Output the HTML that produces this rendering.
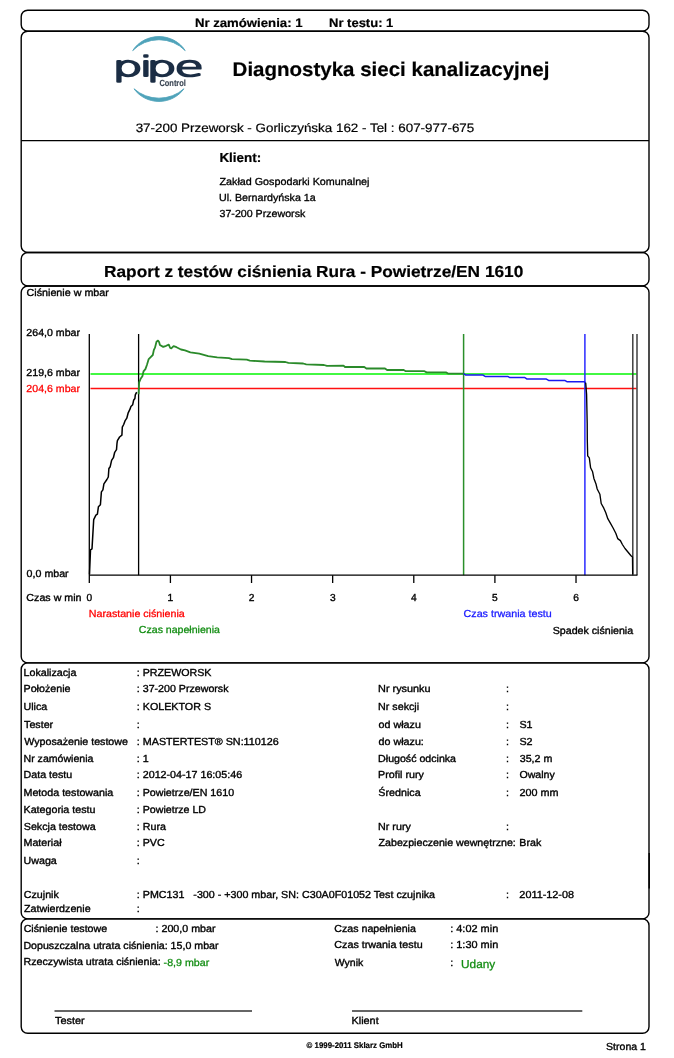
<!DOCTYPE html>
<html><head><meta charset="utf-8"><title>Raport z testów ciśnienia</title>
<style>
html,body{margin:0;padding:0;background:#fff;}
body{width:674px;height:1058px;overflow:hidden;}
svg{display:block;}
text{font-family:"Liberation Sans",Arial,sans-serif;white-space:pre;text-rendering:geometricPrecision;}
.tx text{stroke:#000;stroke-width:0.35;}
.tx text[font-weight="bold"]{stroke-width:0.2;}
</style></head><body>
<svg width="674" height="1058" viewBox="0 0 674 1058">
<rect width="674" height="1058" fill="#fff"/>
<rect x="21.2" y="10.2" width="627.8" height="21.0" rx="6.5" ry="6.5" fill="none" stroke="#000" stroke-width="1.4"/>
<rect x="21.2" y="31.2" width="627.8" height="221.3" rx="6.5" ry="6.5" fill="none" stroke="#000" stroke-width="1.4"/>
<line x1="21.2" y1="140.6" x2="649.0" y2="140.6" stroke="#000" stroke-width="1.4"/>
<rect x="21.2" y="252.5" width="627.8" height="33.5" rx="6.5" ry="6.5" fill="none" stroke="#000" stroke-width="1.4"/>
<rect x="21.2" y="286.0" width="627.8" height="376.9" rx="6.5" ry="6.5" fill="none" stroke="#000" stroke-width="1.4"/>
<rect x="21.2" y="662.9" width="627.8" height="256.0" rx="6.5" ry="6.5" fill="none" stroke="#000" stroke-width="1.4"/>
<rect x="21.2" y="918.9" width="627.8" height="114.39999999999998" rx="6.5" ry="6.5" fill="none" stroke="#000" stroke-width="1.4"/>
<line x1="54.5" y1="1011.1" x2="252" y2="1011.1" stroke="#333" stroke-width="1.5"/>
<line x1="352" y1="1011.1" x2="582.3" y2="1011.1" stroke="#333" stroke-width="1.5"/>
<line x1="649.2" y1="853" x2="649.2" y2="888.6" stroke="#000" stroke-width="1.4"/>

<g>
<path d="M 132.7 50.6 A 30.56 28.7 0 0 1 185.2 50.6 A 35.48 33.32 0 0 0 132.7 50.6 Z" fill="#4fa3ba" stroke="#4fa3ba" stroke-width="0.9" stroke-linejoin="round"/>
<path d="M 134.0 88.8 A 29.9 28.08 0 0 0 183.9 88.8 A 36.1 33.89 0 0 1 134.0 88.8 Z" fill="#4fa3ba" stroke="#4fa3ba" stroke-width="0.9" stroke-linejoin="round"/>
<text style="font-family:'DejaVu Sans',sans-serif" font-weight="200" font-size="27.5" fill="#1b2d44" stroke="#1b2d44" stroke-width="1.9" stroke-linejoin="round" vector-effect="non-scaling-stroke" y="75.9" x="65.35 81.13 85.12 101.4" transform="matrix(1.72 0 0 1 0 0)">pipe</text>
<text font-family="Liberation Sans" font-weight="bold" font-size="9" fill="#3b4654" stroke="#3b4654" stroke-width="0.15" x="159.4" y="85.9" textLength="26.5" lengthAdjust="spacingAndGlyphs">Control</text>
</g>
<line x1="90.5" y1="373.9" x2="636.5" y2="373.9" stroke="#42f842" stroke-width="2"/>
<line x1="90.5" y1="388.5" x2="636.5" y2="388.5" stroke="#ff1010" stroke-width="1.4"/>
<line x1="138.6" y1="334.0" x2="138.6" y2="575.2" stroke="#000" stroke-width="1.3"/>
<line x1="463.6" y1="334.0" x2="463.6" y2="575.2" stroke="#2a8f2a" stroke-width="1.5"/>
<line x1="584.9" y1="334.0" x2="584.9" y2="575.2" stroke="#2a2aff" stroke-width="1.5"/>
<line x1="632.8" y1="334.0" x2="632.8" y2="575.2" stroke="#333" stroke-width="1.4"/>
<line x1="637.0" y1="334.0" x2="637.0" y2="575.2" stroke="#333" stroke-width="1.4"/>
<polyline points="89.5,574.2 90.5,549.9 92,548.9 93.7,519.6 95.9,515.2 97.4,514.2 98.4,506.8 100.4,504.8 101.4,491.9 102.9,489.9 103.9,483.9 106.9,479.5 108.3,477 108.9,468.5 110.2,466.7 111.6,460.4 113.4,457.7 114.7,452.3 116.5,449.6 117,443.3 117.4,440.6 119.6,437 121.9,435.2 122.3,427.2 123.7,424.5 125,420.9 126.8,418.2 128.2,412.8 130,409.2 130.9,406.5 132.7,404.7 133.6,400.3 134.9,398.5 135.3,394.9 136.7,392.2" fill="none" stroke="#000" stroke-width="1.5" stroke-linejoin="round"/>
<polyline points="138.6,394.3 139.1,382.5 140.6,378.8 142.4,376.2 143.5,371.4 145.4,369.1 146.9,365 148.7,359.1 150.2,357.6 152.8,355 153.9,349.8 155,347.6 156.5,341.7 158,340.6 159.1,342 159.9,345 163.2,346.9 166.2,345.8 168.8,344.6 170.2,348 171.3,348.4 173.6,346.1 176.5,347.2 181,349.5 185,350.4 190.4,352.3 199.3,353.7 208.2,356.1 217.2,357.3 229,358.2 232,359.1 246.8,359.7 249.8,360.6 264.6,361.5 285.4,362 288.4,362.9 303.2,363.5 306.2,364.4 324,365 326.9,365.8 343.5,365.6 345,367 364.3,367 366.4,368.5 385,368.5 387.1,370 403.7,370 405.8,371.2 424.5,371.2 426.6,372.4 446.3,372.4 448.4,373.7 463.6,373.7" fill="none" stroke="#2a8a2a" stroke-width="1.8" stroke-linejoin="round"/>
<polyline points="463.6,373.7 465.8,375.1 483,375.1 485.1,376.4 507.7,376.4 509.9,377.6 524.9,377.6 527.1,379.1 546.4,379.1 548.6,380.4 564.7,380.4 566.9,381.7 584.1,381.7 585.7,382.8" fill="none" stroke="#1a1aee" stroke-width="1.5" stroke-linejoin="round"/>
<polyline points="585.7,382.8 586.6,394.4 587.2,423.4 587.3,440 587.7,455.9 589.3,457.9 590.6,467.8 592.6,471.8 593.9,478.4 595.9,483.7 597.2,489 599.9,494.3 601.2,503.5 603.8,508.2 605.8,512.8 607.8,518.7 610.5,523.4 613.1,528 615.8,533.3 617.7,538.6 620.4,540.6 622.4,544.5 625,548.5 627.7,551.8 631,555.8 632.5,557.1 632.7,574.3" fill="none" stroke="#000" stroke-width="1.35" stroke-linejoin="round"/>
<line x1="89.3" y1="334.0" x2="89.3" y2="583" stroke="#000" stroke-width="1.3"/>
<line x1="89.3" y1="575.2" x2="637.4" y2="575.2" stroke="#000" stroke-width="1.3"/>
<line x1="170.42" y1="575.2" x2="170.42" y2="583" stroke="#000" stroke-width="1.3"/>
<line x1="251.54" y1="575.2" x2="251.54" y2="583" stroke="#000" stroke-width="1.3"/>
<line x1="332.66" y1="575.2" x2="332.66" y2="583" stroke="#000" stroke-width="1.3"/>
<line x1="413.78" y1="575.2" x2="413.78" y2="583" stroke="#000" stroke-width="1.3"/>
<line x1="494.90" y1="575.2" x2="494.90" y2="583" stroke="#000" stroke-width="1.3"/>
<line x1="576.02" y1="575.2" x2="576.02" y2="583" stroke="#000" stroke-width="1.3"/>
<g class="tx">
<text x="194.90" y="26.60" font-size="12.3" font-weight="bold" textLength="107.62" lengthAdjust="spacingAndGlyphs">Nr zamówienia: 1</text>
<text x="329.01" y="26.60" font-size="12.3" font-weight="bold" textLength="64.32" lengthAdjust="spacingAndGlyphs">Nr testu: 1</text>
<text x="232.60" y="75.50" font-size="19.8" font-weight="bold" textLength="316.81" lengthAdjust="spacingAndGlyphs">Diagnostyka sieci kanalizacyjnej</text>
<text x="135.65" y="131.50" font-size="12.2" style="stroke-width:0.2" textLength="338.60" lengthAdjust="spacingAndGlyphs">37-200 Przeworsk - Gorliczyńska 162 - Tel : 607-977-675</text>
<text x="219.42" y="161.80" font-size="13.0" font-weight="bold" textLength="41.82" lengthAdjust="spacingAndGlyphs">Klient:</text>
<text x="219.49" y="184.70" font-size="10.2" style="stroke-width:0.3" textLength="149.99" lengthAdjust="spacingAndGlyphs">Zakład Gospodarki Komunalnej</text>
<text x="218.96" y="201.30" font-size="10.2" style="stroke-width:0.3" textLength="96.74" lengthAdjust="spacingAndGlyphs">Ul. Bernardyńska 1a</text>
<text x="219.49" y="217.00" font-size="10.2" style="stroke-width:0.3" textLength="85.83" lengthAdjust="spacingAndGlyphs">37-200 Przeworsk</text>
<text x="104.02" y="276.50" font-size="16.0" font-weight="bold" textLength="419.29" lengthAdjust="spacingAndGlyphs">Raport z testów ciśnienia Rura - Powietrze/EN 1610</text>
<text x="26.57" y="295.60" font-size="10.2" textLength="82.27" lengthAdjust="spacingAndGlyphs">Ciśnienie w mbar</text>
<text x="26.38" y="335.80" font-size="10.2" textLength="53.57" lengthAdjust="spacingAndGlyphs">264,0 mbar</text>
<text x="26.38" y="375.50" font-size="10.2" textLength="53.57" lengthAdjust="spacingAndGlyphs">219,6 mbar</text>
<text x="26.38" y="391.60" font-size="10.2" style="fill:#f00;stroke:#f00;stroke-width:0.28" textLength="53.57" lengthAdjust="spacingAndGlyphs">204,6 mbar</text>
<text x="26.64" y="576.60" font-size="10.2" textLength="42.01" lengthAdjust="spacingAndGlyphs">0,0 mbar</text>
<text x="26.38" y="600.90" font-size="10.2" textLength="55.15" lengthAdjust="spacingAndGlyphs">Czas w min</text>
<text x="86.55" y="600.90" font-size="10.2">0</text>
<text x="167.42" y="600.90" font-size="10.2">1</text>
<text x="248.67" y="600.90" font-size="10.2">2</text>
<text x="329.91" y="600.90" font-size="10.2">3</text>
<text x="410.91" y="600.90" font-size="10.2">4</text>
<text x="492.03" y="600.90" font-size="10.2">5</text>
<text x="573.14" y="600.90" font-size="10.2">6</text>
<text x="88.82" y="617.00" font-size="10.2" style="fill:#f00;stroke:#f00;stroke-width:0.28" textLength="95.88" lengthAdjust="spacingAndGlyphs">Narastanie ciśnienia</text>
<text x="138.88" y="632.80" font-size="10.2" style="fill:#138d13;stroke:#138d13;stroke-width:0.28" textLength="81.04" lengthAdjust="spacingAndGlyphs">Czas napełnienia</text>
<text x="463.57" y="617.00" font-size="10.2" style="fill:#1a1aff;stroke:#1a1aff;stroke-width:0.28" textLength="88.12" lengthAdjust="spacingAndGlyphs">Czas trwania testu</text>
<text x="552.78" y="633.50" font-size="10.2" textLength="80.39" lengthAdjust="spacingAndGlyphs">Spadek ciśnienia</text>
<text x="23.51" y="675.70" font-size="10.2" textLength="52.93" lengthAdjust="spacingAndGlyphs">Lokalizacja</text>
<text x="136.81" y="675.70" font-size="10.2" textLength="74.67" lengthAdjust="spacingAndGlyphs">: PRZEWORSK</text>
<text x="23.51" y="691.80" font-size="10.2" textLength="46.99" lengthAdjust="spacingAndGlyphs">Położenie</text>
<text x="136.82" y="691.80" font-size="10.2" textLength="91.70" lengthAdjust="spacingAndGlyphs">: 37-200 Przeworsk</text>
<text x="23.51" y="709.50" font-size="10.2" textLength="23.79" lengthAdjust="spacingAndGlyphs">Ulica</text>
<text x="136.81" y="709.50" font-size="10.2" textLength="74.25" lengthAdjust="spacingAndGlyphs">: KOLEKTOR S</text>
<text x="24.04" y="727.50" font-size="10.2" textLength="29.14" lengthAdjust="spacingAndGlyphs">Tester</text>
<text x="136.81" y="727.50" font-size="10.2" textLength="2.99" lengthAdjust="spacingAndGlyphs">:</text>
<text x="24.30" y="744.70" font-size="10.2" textLength="103.64" lengthAdjust="spacingAndGlyphs">Wyposażenie testowe</text>
<text x="136.81" y="744.70" font-size="10.2" textLength="141.89" lengthAdjust="spacingAndGlyphs">: MASTERTEST® SN:110126</text>
<text x="23.52" y="761.80" font-size="10.2" textLength="69.85" lengthAdjust="spacingAndGlyphs">Nr zamówienia</text>
<text x="136.81" y="761.80" font-size="10.2" textLength="11.89" lengthAdjust="spacingAndGlyphs">: 1</text>
<text x="23.51" y="777.70" font-size="10.2" textLength="48.76" lengthAdjust="spacingAndGlyphs">Data testu</text>
<text x="136.81" y="777.70" font-size="10.2" textLength="105.33" lengthAdjust="spacingAndGlyphs">: 2012-04-17 16:05:46</text>
<text x="23.51" y="795.70" font-size="10.2" textLength="89.79" lengthAdjust="spacingAndGlyphs">Metoda testowania</text>
<text x="136.81" y="795.70" font-size="10.2" textLength="97.28" lengthAdjust="spacingAndGlyphs">: Powietrze/EN 1610</text>
<text x="23.51" y="812.60" font-size="10.2" textLength="71.96" lengthAdjust="spacingAndGlyphs">Kategoria testu</text>
<text x="136.82" y="812.60" font-size="10.2" textLength="69.21" lengthAdjust="spacingAndGlyphs">: Powietrze LD</text>
<text x="23.78" y="830.00" font-size="10.2" textLength="71.96" lengthAdjust="spacingAndGlyphs">Sekcja testowa</text>
<text x="136.81" y="830.00" font-size="10.2" textLength="29.14" lengthAdjust="spacingAndGlyphs">: Rura</text>
<text x="23.51" y="845.70" font-size="10.2" textLength="38.05" lengthAdjust="spacingAndGlyphs">Materiał</text>
<text x="136.81" y="845.70" font-size="10.2" textLength="27.94" lengthAdjust="spacingAndGlyphs">: PVC</text>
<text x="23.51" y="863.60" font-size="10.2" textLength="33.30" lengthAdjust="spacingAndGlyphs">Uwaga</text>
<text x="136.81" y="863.60" font-size="10.2" textLength="2.99" lengthAdjust="spacingAndGlyphs">:</text>
<text x="23.78" y="897.70" font-size="10.2" textLength="35.08" lengthAdjust="spacingAndGlyphs">Czujnik</text>
<text x="136.81" y="897.70" font-size="10.2" textLength="298.27" lengthAdjust="spacingAndGlyphs">: PMC131   -300 - +300 mbar, SN: C30A0F01052 Test czujnika</text>
<text x="24.04" y="912.10" font-size="10.2" textLength="66.59" lengthAdjust="spacingAndGlyphs">Zatwierdzenie</text>
<text x="136.81" y="912.10" font-size="10.2" textLength="2.99" lengthAdjust="spacingAndGlyphs">:</text>
<text x="378.10" y="691.80" font-size="10.2" textLength="52.45" lengthAdjust="spacingAndGlyphs">Nr rysunku</text>
<text x="506.11" y="691.80" font-size="10.2" textLength="2.99" lengthAdjust="spacingAndGlyphs">:</text>
<text x="378.11" y="709.50" font-size="10.2" textLength="41.02" lengthAdjust="spacingAndGlyphs">Nr sekcji</text>
<text x="506.11" y="709.50" font-size="10.2" textLength="2.99" lengthAdjust="spacingAndGlyphs">:</text>
<text x="378.64" y="727.50" font-size="10.2" textLength="42.23" lengthAdjust="spacingAndGlyphs">od włazu</text>
<text x="506.11" y="727.50" font-size="10.2" textLength="2.99" lengthAdjust="spacingAndGlyphs">:</text>
<text x="519.48" y="727.50" font-size="10.2" textLength="13.09" lengthAdjust="spacingAndGlyphs">S1</text>
<text x="378.64" y="744.70" font-size="10.2" textLength="45.20" lengthAdjust="spacingAndGlyphs">do włazu:</text>
<text x="506.11" y="744.70" font-size="10.2" textLength="2.99" lengthAdjust="spacingAndGlyphs">:</text>
<text x="519.48" y="744.70" font-size="10.2" textLength="13.09" lengthAdjust="spacingAndGlyphs">S2</text>
<text x="378.12" y="761.80" font-size="10.2" textLength="77.88" lengthAdjust="spacingAndGlyphs">Długość odcinka</text>
<text x="506.11" y="761.80" font-size="10.2" textLength="2.99" lengthAdjust="spacingAndGlyphs">:</text>
<text x="519.74" y="761.80" font-size="10.2" textLength="32.59" lengthAdjust="spacingAndGlyphs">35,2 m</text>
<text x="378.11" y="777.70" font-size="10.2" textLength="45.77" lengthAdjust="spacingAndGlyphs">Profil rury</text>
<text x="506.11" y="777.70" font-size="10.2" textLength="2.99" lengthAdjust="spacingAndGlyphs">:</text>
<text x="519.48" y="777.70" font-size="10.2" textLength="35.30" lengthAdjust="spacingAndGlyphs">Owalny</text>
<text x="378.38" y="795.70" font-size="10.2" textLength="42.23" lengthAdjust="spacingAndGlyphs">Średnica</text>
<text x="506.11" y="795.70" font-size="10.2" textLength="2.99" lengthAdjust="spacingAndGlyphs">:</text>
<text x="519.47" y="795.70" font-size="10.2" textLength="39.03" lengthAdjust="spacingAndGlyphs">200 mm</text>
<text x="378.11" y="830.30" font-size="10.2" textLength="32.68" lengthAdjust="spacingAndGlyphs">Nr rury</text>
<text x="506.11" y="830.30" font-size="10.2" textLength="2.99" lengthAdjust="spacingAndGlyphs">:</text>
<text x="378.64" y="846.00" font-size="10.2" textLength="137.19" lengthAdjust="spacingAndGlyphs">Zabezpieczenie wewnętrzne:</text>
<text x="519.31" y="846.00" font-size="10.2" textLength="21.94" lengthAdjust="spacingAndGlyphs">Brak</text>
<text x="506.11" y="897.70" font-size="10.2" textLength="2.99" lengthAdjust="spacingAndGlyphs">:</text>
<text x="519.37" y="897.70" font-size="10.2" textLength="54.61" lengthAdjust="spacingAndGlyphs">2011-12-08</text>
<text x="23.68" y="931.90" font-size="10.2" textLength="83.48" lengthAdjust="spacingAndGlyphs">Ciśnienie testowe</text>
<text x="155.51" y="931.90" font-size="10.2" textLength="60.04" lengthAdjust="spacingAndGlyphs">: 200,0 mbar</text>
<text x="23.42" y="948.50" font-size="10.2" textLength="195.11" lengthAdjust="spacingAndGlyphs">Dopuszczalna utrata ciśnienia: 15,0 mbar</text>
<text x="23.41" y="965.30" font-size="10.2" textLength="137.34" lengthAdjust="spacingAndGlyphs">Rzeczywista utrata ciśnienia:</text>
<text x="163.64" y="965.70" font-size="10.2" style="fill:#138d13;stroke:#138d13;stroke-width:0.28" textLength="45.58" lengthAdjust="spacingAndGlyphs">-8,9 mbar</text>
<text x="334.28" y="931.90" font-size="10.2" textLength="81.64" lengthAdjust="spacingAndGlyphs">Czas napełnienia</text>
<text x="450.19" y="931.90" font-size="10.2" textLength="48.04" lengthAdjust="spacingAndGlyphs">: 4:02 min</text>
<text x="334.27" y="948.30" font-size="10.2" textLength="88.42" lengthAdjust="spacingAndGlyphs">Czas trwania testu</text>
<text x="450.19" y="948.30" font-size="10.2" textLength="48.04" lengthAdjust="spacingAndGlyphs">: 1:30 min</text>
<text x="334.80" y="965.50" font-size="10.2" textLength="28.50" lengthAdjust="spacingAndGlyphs">Wynik</text>
<text x="450.21" y="965.50" font-size="10.2" textLength="2.99" lengthAdjust="spacingAndGlyphs">:</text>
<text x="461.04" y="967.90" font-size="11.6" style="fill:#138d13;stroke:#138d13;stroke-width:0.28" textLength="34.18" lengthAdjust="spacingAndGlyphs">Udany</text>
<text x="55.13" y="1023.70" font-size="10.2" textLength="29.57" lengthAdjust="spacingAndGlyphs">Tester</text>
<text x="351.50" y="1023.90" font-size="10.2" textLength="27.18" lengthAdjust="spacingAndGlyphs">Klient</text>
<text x="306.60" y="1048.00" font-size="8.2" font-weight="bold" textLength="96.08" lengthAdjust="spacingAndGlyphs">© 1999-2011 Sklarz GmbH</text>
<text x="606.08" y="1049.50" font-size="10.2" textLength="39.79" lengthAdjust="spacingAndGlyphs">Strona 1</text>
</g>
</svg>
</body></html>
